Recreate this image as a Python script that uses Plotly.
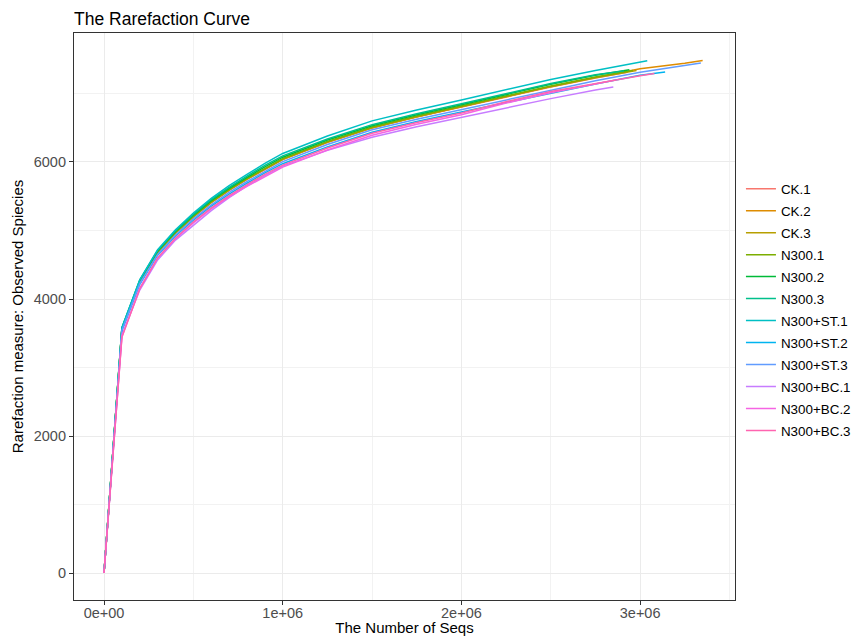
import plotly.graph_objects as go

# Sampling depths shared by all curves
depths = [0, 1e5, 2e5, 3e5, 4e5, 5e5, 6e5, 7e5, 8e5, 9e5, 1e6,
          1.25e6, 1.5e6, 1.75e6, 2e6, 2.25e6, 2.5e6, 2.75e6, 3e6, 3.25e6]

samples = ["CK.1", "CK.2", "CK.3", "N300.1", "N300.2", "N300.3",
           "N300+ST.1", "N300+ST.2", "N300+ST.3", "N300+BC.1", "N300+BC.2", "N300+BC.3"]

colors = ["#F8766D", "#DE8C00", "#B79F00", "#7CAE00", "#00BA38", "#00C08B",
          "#00BFC4", "#00B4F0", "#619CFF", "#C77CFF", "#F564E3", "#FF64B0"]

# observed species at each depth
ck1 = [0, 3555, 4245, 4675, 4960, 5195, 5405, 5585, 5745, 5895, 6035, 6285, 6495, 6655, 6800, 6950, 7095, 7225]
ck2 = [0, 3560, 4250, 4680, 4965, 5200, 5410, 5590, 5750, 5900, 6040, 6290, 6500, 6660, 6805, 6960, 7100, 7235, 7360, 7440]
ck3 = [0, 3560, 4250, 4680, 4965, 5200, 5410, 5590, 5750, 5900, 6040, 6290, 6500, 6660, 6805, 6955, 7100, 7230]
n1 = [0, 3565, 4255, 4690, 4975, 5210, 5420, 5600, 5760, 5910, 6050, 6300, 6510, 6670, 6815, 6965, 7110, 7240]
n2 = [0, 3575, 4270, 4700, 4985, 5225, 5435, 5615, 5775, 5930, 6070, 6320, 6530, 6690, 6835, 6985, 7135, 7265]
n3 = [0, 3578, 4275, 4710, 4995, 5235, 5450, 5630, 5795, 5950, 6090, 6335, 6545, 6705, 6850, 7000, 7145, 7275]
st1 = [0, 3580, 4280, 4720, 5010, 5255, 5470, 5655, 5820, 5980, 6125, 6380, 6600, 6760, 6905, 7060, 7205, 7335, 7455]
st2 = [0, 3535, 4215, 4640, 4920, 5150, 5355, 5530, 5690, 5840, 5975, 6220, 6435, 6590, 6730, 6870, 7010, 7140, 7265]
st3 = [0, 3540, 4225, 4650, 4935, 5170, 5375, 5555, 5715, 5865, 6005, 6255, 6470, 6625, 6765, 6910, 7050, 7185, 7310, 7415]
bc1 = [0, 3470, 4130, 4570, 4860, 5070, 5290, 5480, 5650, 5800, 5940, 6170, 6360, 6515, 6655, 6790, 6925, 7050]
bc2 = [0, 3450, 4160, 4600, 4880, 5110, 5315, 5490, 5645, 5790, 5925, 6175, 6390, 6550, 6690, 6860, 7010, 7140]
bc3 = [0, 3440, 4150, 4600, 4890, 5125, 5330, 5510, 5670, 5820, 5955, 6205, 6420, 6575, 6715, 6880, 7030, 7150, 7260]

# final (total) depth and observed species of each sample
end_depth = [2.93e6, 3.35e6, 2.98e6, 2.96e6, 2.94e6, 2.91e6, 3.04e6, 3.14e6, 3.34e6, 2.85e6, 2.86e6, 3.08e6]
end_obs = [7310, 7482, 7335, 7335, 7345, 7330, 7479, 7314, 7445, 7095, 7195, 7292]

series = [ck1, ck2, ck3, n1, n2, n3, st1, st2, st3, bc1, bc2, bc3]

x_ticks = [0, 1e6, 2e6, 3e6]
x_ticktext = ["0e+00", "1e+06", "2e+06", "3e+06"]
y_ticks = [0, 2000, 4000, 6000]

fig = go.Figure()
for name, col, ys, xe, ye in zip(samples, colors, series, end_depth, end_obs):
    xs = depths[:len(ys)] + [xe]
    fig.add_trace(go.Scatter(x=xs, y=ys + [ye], mode="lines",
                             name='<span style="font-size:13.4px">' + name + '</span>',
                             line=dict(color=col, width=1.5)))

font = "Liberation Sans, Arial, sans-serif"
fig.update_layout(
    width=855, height=636,
    margin=dict(l=74, r=120, t=33, b=36, autoexpand=False),
    paper_bgcolor="white", plot_bgcolor="white",
    font=dict(family=font, color="#000000"),
    title=dict(text="The Rarefaction Curve", x=74/855, xanchor="left",
               y=1 - 19/636, yanchor="middle", font=dict(size=17.5, color="#000000")),
    legend=dict(x=1.009, xanchor="left", y=0.512, yanchor="middle",
                font=dict(size=14.6, color="#000000"), bgcolor="rgba(0,0,0,0)",
                tracegroupgap=0),
    showlegend=True,
)
fig.update_xaxes(
    automargin=False,
    range=[-168000, 3531000], tickvals=x_ticks, ticktext=x_ticktext,
    showgrid=True, gridcolor="#EBEBEB", gridwidth=1,
    minor=dict(tickvals=[5e5, 1.5e6, 2.5e6, 3.5e6], showgrid=True, gridcolor="#F2F2F2", gridwidth=0.8),
    zeroline=False, showline=True, mirror=True, linecolor="#333333", linewidth=1.2,
    ticks="outside", ticklen=4, tickcolor="#333333", ticklabelstandoff=-5,
    tickfont=dict(size=14.5, color="#4D4D4D", family=font),
    title=dict(text="The Number of Seqs", font=dict(size=15, color="#000000", family=font), standoff=2),
)
fig.update_yaxes(
    automargin=False,
    range=[-394, 7883], tickvals=y_ticks,
    showgrid=True, gridcolor="#EBEBEB", gridwidth=1,
    minor=dict(tickvals=[1000, 3000, 5000, 7000], showgrid=True, gridcolor="#F2F2F2", gridwidth=0.8),
    zeroline=False, showline=True, mirror=True, linecolor="#333333", linewidth=1.2,
    ticks="outside", ticklen=4, tickcolor="#333333",
    tickfont=dict(size=14.5, color="#4D4D4D", family=font),
    title=dict(text="Rarefaction measure: Observed Spiecies", font=dict(size=15, color="#000000", family=font), standoff=6),
)

fig.write_html("out.html")
